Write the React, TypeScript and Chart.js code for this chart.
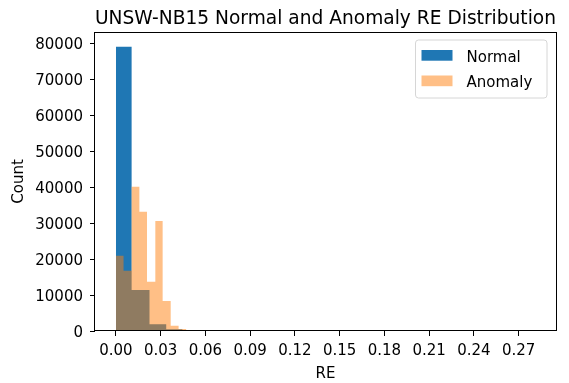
import React, { useEffect, useRef } from 'react';
import { Chart, registerables } from 'chart.js';

Chart.register(...registerables);

const TITLE = 'UNSW-NB15 Normal and Anomaly RE Distribution';
const X_LABEL = 'RE';
const Y_LABEL = 'Count';
const seriesLabels = ['Normal', 'Anomaly'];

// histogram bin edges (RE) and counts
const normalEdges = [0, 0.0105, 0.0225, 0.0337, 0.0447];
const normalCounts = [79060, 11400, 1860, 470];
const anomalyEdges = [0, 0.0051, 0.0105, 0.0157, 0.0208, 0.0264, 0.0313, 0.0367, 0.042, 0.0472];
const anomalyCounts = [20940, 16770, 40130, 33180, 13710, 30590, 8340, 1470, 560];

const xTicks = [0, 0.03, 0.06, 0.09, 0.12, 0.15, 0.18, 0.21, 0.24, 0.27];
const yTicks = [0, 10000, 20000, 30000, 40000, 50000, 60000, 70000, 80000];
const xLimits = [-0.01405, 0.29505];
const yLimits = [0, 83150];

const FONT = 'DejaVu Sans';
const NORMAL_COLOR = '#1f77b4';
const ANOMALY_COLOR = 'rgba(255,127,14,0.5)';

function histOutline(edges: number[], counts: number[]) {
  const pts: { x: number; y: number }[] = [{ x: edges[0], y: 0 }];
  counts.forEach((c, i) => {
    pts.push({ x: edges[i], y: c });
    pts.push({ x: edges[i + 1], y: c });
  });
  pts.push({ x: edges[edges.length - 1], y: 0 });
  return pts;
}

const framePlugin = {
  id: 'mplFrame',
  afterDraw(chart: any) {
    const { ctx, chartArea: a } = chart;
    ctx.save();
    ctx.strokeStyle = '#000';
    ctx.lineWidth = 1;
    ctx.strokeRect(Math.round(a.left) - 0.5, Math.round(a.top) + 0.5, Math.round(a.right - a.left) + 1, Math.round(a.bottom - a.top) - 1);
    ctx.restore();
  },
};

const legendPlugin = {
  id: 'mplLegend',
  afterDraw(chart: any) {
    const { ctx, chartArea: a } = chart;
    const w = 131.5;
    const h = 58;
    const x = a.right - 9 - w;
    const y = a.top + 8;
    const r = 3;
    ctx.save();
    ctx.beginPath();
    ctx.moveTo(x + r, y);
    ctx.lineTo(x + w - r, y);
    ctx.arcTo(x + w, y, x + w, y + r, r);
    ctx.lineTo(x + w, y + h - r);
    ctx.arcTo(x + w, y + h, x + w - r, y + h, r);
    ctx.lineTo(x + r, y + h);
    ctx.arcTo(x, y + h, x, y + h - r, r);
    ctx.lineTo(x, y + r);
    ctx.arcTo(x, y, x + r, y, r);
    ctx.closePath();
    ctx.fillStyle = 'rgba(255,255,255,0.8)';
    ctx.fill();
    ctx.strokeStyle = '#d6d6d6';
    ctx.lineWidth = 1;
    ctx.stroke();
    const order = [0, 1];
    order.forEach((di, i) => {
      const ds = chart.data.datasets[di];
      ctx.fillStyle = ds.backgroundColor;
      ctx.fillRect(x + 6, y + 10 + i * 25.5, 31, 10.7);
      ctx.fillStyle = '#000';
      ctx.font = `15px "${FONT}"`;
      ctx.textBaseline = 'alphabetic';
      ctx.textAlign = 'left';
      ctx.fillText(ds.label, x + 51, y + 21.7 + i * 25.2);
    });
    ctx.restore();
  },
};

export default function App() {
  const ref = useRef<HTMLCanvasElement>(null);
  useEffect(() => {
    if (!ref.current) return;
    const chart = new Chart(ref.current, {
      type: 'line',
      data: {
        datasets: [
          {
            label: seriesLabels[0],
            data: histOutline(normalEdges, normalCounts),
            backgroundColor: NORMAL_COLOR,
            borderColor: 'rgba(0,0,0,0)',
            borderWidth: 0,
            pointRadius: 0,
            fill: 'origin',
            tension: 0,
            order: 2,
          },
          {
            label: seriesLabels[1],
            data: histOutline(anomalyEdges, anomalyCounts),
            backgroundColor: ANOMALY_COLOR,
            borderColor: 'rgba(0,0,0,0)',
            borderWidth: 0,
            pointRadius: 0,
            fill: 'origin',
            tension: 0,
            order: 1,
          },
        ],
      },
      options: {
        animation: false,
        responsive: false,
        devicePixelRatio: 1,
        events: [],
        layout: { padding: { left: 0, right: 13, top: 0, bottom: 0 } },
        plugins: {
          legend: { display: false },
          tooltip: { enabled: false },
          title: {
            display: true,
            text: TITLE,
            fullSize: false,
            color: '#000',
            font: { family: FONT, size: 19.5, weight: 'normal', lineHeight: 1.2 },
            padding: { top: 7.5, bottom: 1.1 },
          },
        },
        scales: {
          x: {
            type: 'linear',
            min: xLimits[0],
            max: xLimits[1],
            afterBuildTicks: (axis: any) => {
              axis.ticks = xTicks.map((v) => ({ value: v }));
            },
            afterFit: (s: any) => {
              s.height = 52;
            },
            ticks: {
              color: '#000',
              font: { family: FONT, size: 15 },
              padding: 6,
              maxRotation: 0,
              autoSkip: false,
              callback: (v: any) => Number(v).toFixed(2),
            },
            grid: { display: true, drawOnChartArea: false, drawTicks: true, tickLength: 5, color: '#000', lineWidth: 1 },
            border: { display: false },
            title: {
              display: true,
              text: X_LABEL,
              color: '#000',
              font: { family: FONT, size: 15, lineHeight: 1.2 },
              padding: { top: 0, bottom: 0 },
            },
          },
          y: {
            type: 'linear',
            min: yLimits[0],
            max: yLimits[1],
            afterBuildTicks: (axis: any) => {
              axis.ticks = yTicks.map((v) => ({ value: v }));
            },
            afterFit: (s: any) => {
              s.width = 95;
            },
            ticks: {
              color: '#000',
              font: { family: FONT, size: 15 },
              padding: 7,
              labelOffset: 2,
              autoSkip: false,
              callback: (v: any) => String(v),
            },
            grid: { display: true, drawOnChartArea: false, drawTicks: true, tickLength: 5, color: '#000', lineWidth: 1 },
            border: { display: false },
            title: {
              display: true,
              text: Y_LABEL,
              color: '#000',
              font: { family: FONT, size: 15, lineHeight: 1.2 },
              padding: { top: 10, bottom: 0 },
            },
          },
        },
      },
      plugins: [framePlugin, legendPlugin],
    } as any);
    return () => chart.destroy();
  }, []);
  return (
    <div style={{ position: 'absolute', left: 0, top: 0, width: 569, height: 383, background: '#fff' }}>
      <canvas ref={ref} width={569} height={383} style={{ display: 'block' }} />
    </div>
  );
}
